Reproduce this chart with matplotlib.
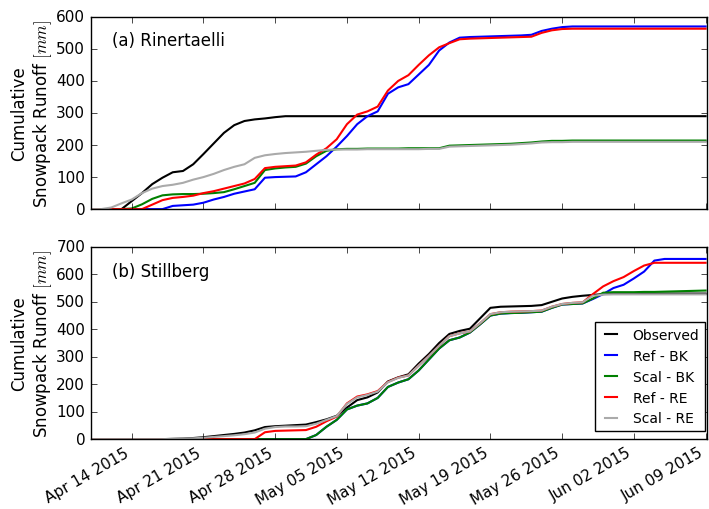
import matplotlib
matplotlib.use("Agg")
import matplotlib.pyplot as plt
import matplotlib.dates as mdates
import numpy as np
import pandas as pd

plt.style.use("classic")

# daily values from Apr 10 2015 to Jun 09 2015 (61 days), cumulative runoff in mm
days = pd.date_range("2015-04-10", "2015-06-09", freq="D")
tick_dates = pd.date_range("2015-04-14", periods=9, freq="7D")

# (a) Rinertaelli
obs_a = [0, 0, 0, 0, 25, 50, 78, 98, 115, 119, 140, 172, 205, 238, 262, 275, 280, 283, 287, 290,
         290, 290, 290, 290, 290, 290, 290, 290, 290, 290, 290, 290, 290, 290, 290, 290, 290, 290, 290, 290,
         290, 290, 290, 290, 290, 290, 290, 290, 290, 290, 290, 290, 290, 290, 290, 290, 290, 290, 290, 290, 290]
rbk_a = [0, 0, 0, 0, 0, 0, 0, 0, 10, 12, 14, 20, 30, 38, 48, 55, 62, 98, 100, 101,
         102, 115, 140, 165, 195, 228, 265, 290, 305, 360, 380, 390, 420, 450, 495, 520, 535, 537, 538, 539,
         540, 541, 542, 544, 556, 563, 568, 570, 570, 570, 570, 570, 570, 570, 570, 570, 570, 570, 570, 570, 570]
scbk_a = [0, 0, 0, 0, 2, 15, 32, 43, 46, 47, 47, 48, 50, 53, 62, 72, 82, 122, 127, 130,
          132, 142, 165, 182, 187, 188, 188, 189, 189, 189, 189, 190, 190, 190, 190, 198, 199, 200, 201, 202,
          203, 204, 206, 208, 211, 213, 213, 214, 214, 214, 214, 214, 214, 214, 214, 214, 214, 214, 214, 214, 214]
rre_a = [0, 0, 0, 0, 0, 0, 14, 28, 35, 38, 42, 50, 56, 64, 72, 80, 94, 128, 132, 134,
         136, 146, 170, 190, 218, 265, 295, 305, 320, 370, 400, 418, 450, 480, 505, 518, 530, 532, 533, 534,
         535, 536, 537, 538, 550, 558, 562, 563, 563, 563, 563, 563, 563, 563, 563, 563, 563, 563, 563, 563, 563]
scre_a = [0, 0, 5, 18, 30, 50, 64, 72, 76, 82, 92, 100, 110, 122, 132, 140, 160, 168, 172, 175,
          177, 179, 182, 185, 186, 186, 186, 187, 187, 187, 187, 187, 187, 188, 188, 195, 196, 197, 198, 199,
          200, 201, 203, 205, 208, 209, 209, 210, 210, 210, 210, 210, 210, 210, 210, 210, 210, 210, 210, 210, 210]

# (b) Stillberg
obs_b = [0, 0, 0, 0, 0, 0, 0, 0, 1, 2, 4, 7, 11, 15, 19, 24, 32, 44, 47, 49,
         51, 53, 62, 72, 85, 115, 142, 152, 170, 210, 225, 236, 275, 310, 350, 383, 394, 402, 440, 478,
         482, 483, 484, 485, 488, 500, 512, 518, 522, 525, 528, 530, 530, 530, 530, 530, 530, 530, 530, 530, 530]
rbk_b = [0, 0, 0, 0, 0, 0, 0, 0, 0, 0, 0, 0, 0, 0, 0, 0, 0, 0, 0, 0,
         0, 0, 15, 45, 70, 108, 122, 130, 150, 190, 206, 218, 250, 290, 330, 360, 370, 388, 418, 450,
         457, 459, 460, 462, 464, 478, 490, 492, 494, 510, 528, 550, 562, 585, 610, 650, 656, 656, 656, 656, 656]
scbk_b = [0, 0, 0, 0, 0, 0, 0, 0, 0, 0, 0, 0, 0, 0, 0, 0, 0, 0, 0, 0,
          0, 0, 15, 45, 70, 108, 122, 130, 150, 190, 206, 218, 250, 290, 330, 360, 370, 388, 418, 450,
          457, 459, 460, 462, 464, 478, 490, 492, 494, 512, 533, 535, 535, 535, 536, 536, 537, 538, 539, 540, 541]
rre_b = [0, 0, 0, 0, 0, 0, 0, 0, 0, 0, 0, 0, 0, 0, 0, 0, 0, 25, 30, 31,
         32, 33, 45, 65, 82, 130, 155, 163, 175, 208, 224, 232, 268, 303, 340, 375, 385, 392, 422, 455,
         462, 464, 465, 466, 468, 482, 492, 496, 498, 528, 556, 575, 590, 612, 632, 642, 642, 642, 642, 642, 642]
scre_b = [0, 0, 0, 0, 0, 0, 0, 0, 1, 2, 3, 5, 8, 11, 14, 18, 24, 38, 44, 46,
          46, 47, 56, 70, 84, 128, 152, 161, 173, 207, 223, 232, 268, 303, 340, 375, 385, 392, 422, 455,
          462, 464, 465, 466, 468, 482, 492, 496, 498, 522, 526, 527, 527, 527, 527, 527, 527, 527, 527, 527, 527]

labels = ["Observed", "Ref - BK", "Scal - BK", "Ref - RE", "Scal - RE"]
colors = ["k", "b", "g", "r", "#aaaaaa"]

fig = plt.figure(figsize=(7.09, 5.10), dpi=100, facecolor="white")
ax1 = fig.add_axes([0.128, 0.588, 0.869, 0.377])
ax2 = fig.add_axes([0.128, 0.137, 0.869, 0.377])

panels = [
    (ax1, [obs_a, rbk_a, scbk_a, rre_a, scre_a], "(a) Rinertaelli", 600),
    (ax2, [obs_b, rbk_b, scbk_b, rre_b, scre_b], "(b) Stillberg", 700),
]

for ax, series, title, ymax in panels:
    for vals, lab, col in zip(series, labels, colors):
        ax.plot(days, vals, color=col, lw=1.5, label=lab)
    ax.set_xlim(pd.Timestamp("2015-04-10"), pd.Timestamp("2015-06-09 03:00"))
    ax.set_ylim(0, ymax)
    ax.set_yticks(np.arange(0, ymax + 1, 100))
    ax.set_xticks(tick_dates)
    ax.xaxis.set_major_formatter(mdates.DateFormatter("%b %d %Y"))
    ax.set_ylabel("Cumulative\nSnowpack Runoff $[mm]$", fontsize=12, labelpad=1.5)
    ax.text(0.034, 0.877, title, transform=ax.transAxes, fontsize=12, va="center")
    ax.tick_params(labelsize=11)

ax1.tick_params(labelbottom=False)
for lbl in ax2.get_xticklabels():
    lbl.set_rotation(30)
    lbl.set_ha("right")

ax2.legend(loc="lower right", bbox_to_anchor=(0.997, 0.042), borderaxespad=0,
           fontsize=10, handlelength=1.5, frameon=True, fancybox=False)

fig.savefig("out.png", dpi=100, facecolor="white")
